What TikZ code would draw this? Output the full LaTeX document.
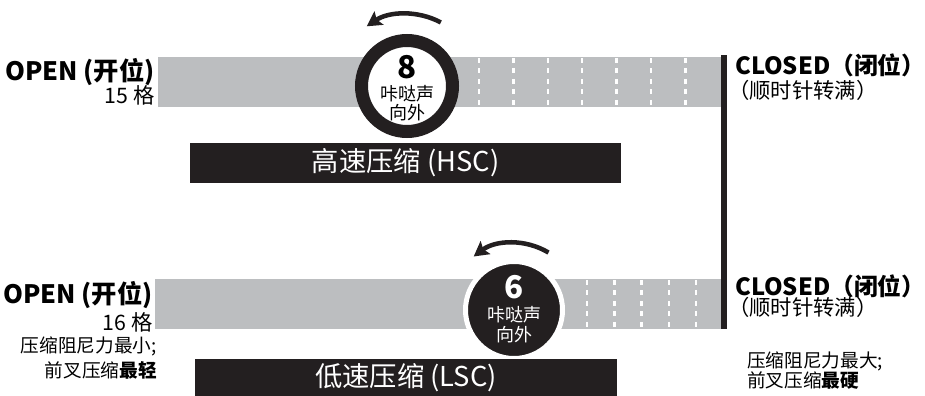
\documentclass[tikz,border=0pt]{standalone}
\usepackage{fontspec}
\setmainfont{Noto Sans CJK SC}
\usetikzlibrary{arrows.meta}
\usetikzlibrary{positioning}
\definecolor{fk-bar}{HTML}{BCBEC0}
\definecolor{fk-ink}{HTML}{231F20}
\newcommand{\fsz}[1]{\fontsize{#1}{#1}\selectfont}

\begin{document}
\begin{tikzpicture}[x=0.75pt, y=-0.75pt, >=latex]

  % Styles
  \tikzset{
    bar/.style={fill=fk-bar},
    tick/.style={draw=white, line width=1.9pt, dash pattern=on 3.75pt off 4.1pt},
    stop/.style={draw=fk-ink, line width=4.5pt},
    band/.style={fill=fk-ink, text=white, inner sep=0pt, font=\fsz{20.5}},
    ringknob/.style={circle, draw=fk-ink, fill=white, line width=9.75pt, minimum size=68.25pt, inner sep=0pt},
    diskknob/.style={circle, draw=white, fill=fk-ink, line width=3.75pt, minimum size=72.75pt, inner sep=0pt},
    turn/.style={draw=fk-ink, line width=3.4pt, -{Stealth[length=11pt, width=12pt, inset=2pt]}},
    head/.style={font=\bfseries\fsz{19}, inner sep=0pt},
    closed/.style={font=\bfseries\fsz{17.8}, inner sep=0pt},
    sub/.style={font=\fsz{16}, inner sep=0pt},
    note/.style={font=\fsz{14}, inner sep=0pt},
    num/.style={font=\bfseries\fsz{23.5}, inner sep=0pt},
    small/.style={font=\fsz{13.5}, inner sep=0pt}
  }

  \useasboundingbox (0,0) rectangle (925,396);

  % High speed compression
  \fill[bar] (158,57) rectangle (722,107);
  \foreach \k in {0,...,6}
    \draw[tick] ({479+34.4*\k},58) -- ({479+34.4*\k},107);
  \node[ringknob] (hscknob) at (407,86) {};
  \node[num] (hscnum) at (407,67) {8};
  \node[small] (hscclick) at (407,94) {咔哒声};
  \node[small] (hscout) at (407,113) {向外};
  \draw[turn] ([shift={(-62:72)}]hscknob.center) arc[start angle=-62, end angle=-124, radius=72];
  \node[band, minimum width=323.25pt, minimum height=30pt] (hsc) at (405.5,163) {高速压缩 (HSC)};

  \node[head, anchor=base east] (hscopen) at (155,80) {OPEN (开位)};
  \node[sub, anchor=base east] (hscclicks) at (155,103) {15 格};
  \node[closed, anchor=base west] (hscclosed) at (735,74) {CLOSED（闭位）};
  \node[sub, anchor=base west] (hsccw) at (728,98) {（顺时针转满）};

  % Low speed compression
  \fill[bar] (155,279) rectangle (722,329);
  \foreach \k in {0,...,4}
    \draw[tick] ({587+27.3*\k},280) -- ({587+27.3*\k},329);
  \node[diskknob] (lscknob) at (514,310) {};
  \node[num, text=white] (lscnum) at (514,287) {6};
  \node[small, text=white] (lscclick) at (514,315) {咔哒声};
  \node[small, text=white] (lscout) at (514,335) {向外};
  \draw[turn] ([shift={(-59:67)}]lscknob.center) arc[start angle=-59, end angle=-127, radius=67];
  \node[band, minimum width=316.5pt, minimum height=27.75pt] (lsc) at (406,377.5) {低速压缩 (LSC)};

  \node[head, anchor=base east] (lscopen) at (153,303) {OPEN (开位)};
  \node[sub, anchor=base east] (lscclicks) at (153,330) {16 格};
  \node[note, anchor=base east] (lscsoft) at (157,352) {压缩阻尼力最小;};
  \node[note, anchor=base east] (lscsofter) at (157,377) {前叉压缩\textbf{最轻}};
  \node[closed, anchor=base west] (lscclosed) at (735,295) {CLOSED（闭位）};
  \node[sub, anchor=base west] (lsccw) at (728,315) {（顺时针转满）};
  \node[note, anchor=base west] (lschard) at (747,367) {压缩阻尼力最大;};
  \node[note, anchor=base west] (lschardest) at (747,387) {前叉压缩\textbf{最硬}};

  % Full stop line
  \draw[stop] (724,55) -- (724,329);

\end{tikzpicture}
\end{document}
